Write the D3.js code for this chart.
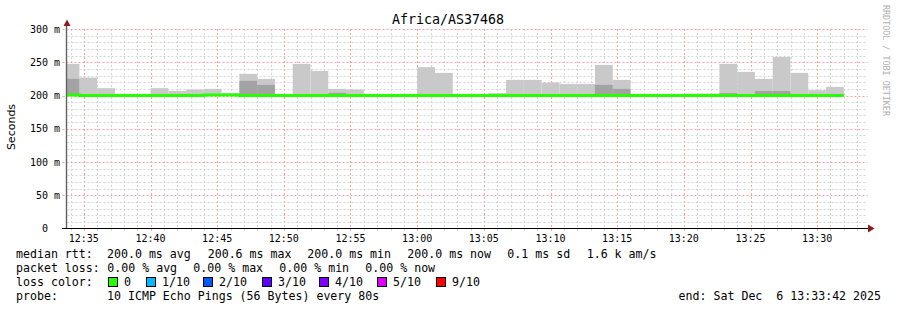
<!DOCTYPE html>
<html>
<head>
<meta charset="utf-8">
<script src="https://cdn.jsdelivr.net/npm/d3@7"></script>
<style>
  body { margin: 0; background: #fff; }
  svg { display: block; }
  text { font-family: "DejaVu Sans Mono", monospace; white-space: pre; }
</style>
</head>
<body>
<svg id="chart" width="897" height="310"></svg>
<script>
// ---- data (ms), one value per 80 s step, oldest first
var title = "Africa/AS37468";
var stepSec = 80;
var lastStepEnd = new Date(2025, 11, 6, 13, 32, 0);
var graphEnd = new Date(2025, 11, 6, 13, 33, 42);
var smokeFloor = 200.0;

var medianMs = [200.6, 200.0, 200.0, 200.0, 200.0, 200.0, 200.0, 200.0, 200.6, 200.6,
                200.0, 200.0, 200.0, 200.0, 200.0, 200.0, 200.0, 200.0, 200.0, 200.0,
                200.0, 200.0, 200.0, 200.0, 200.0, 200.0, 200.0, 200.0, 200.0, 200.0,
                200.0, 200.0, 200.0, 200.0, 200.0, 200.0, 200.0, 200.0, 200.0, 200.0,
                200.0, 200.0, 200.0, 200.0];
// highest ping of each step (light smoke)
var maxMs = [247.6, 227, 211, null, null, 211, 207, 209, 210, 204,
             232.5, 225, null, 247.6, 237, 210, 209, null, null, null,
             242.6, 234, null, null, 203.5, 223.5, 223.5, 219.5, 217.4, 217.4,
             246, 223.5, null, null, null, 203, 203, 247.6, 235.5, 225,
             258, 234, 208, 213];
// where pings overlap (dark smoke)
var darkMs = [225, null, null, null, null, null, null, null, null, null,
              222, 216, null, null, null, 204, null, null, null, null,
              null, null, null, null, null, null, null, null, null, null,
              216, 210, null, null, null, null, null, 203.5, null, 206.8,
              206.8, null, null, null];

var yTicks = [0, 50, 100, 150, 200, 250, 300];
var lossLabels = ["0", "1/10", "2/10", "3/10", "4/10", "5/10", "9/10"];
var lossColors = ["#26ff00", "#00b8ff", "#0059ff", "#5e00ff", "#7e00ff", "#dd00ff", "#ff0000"];
var rttStats = ["200.0 ms avg", "200.6 ms max", "200.0 ms min", "200.0 ms now", "0.1 ms sd", "1.6 k am/s"];
var lossStats = ["0.00 % avg", "0.00 % max", "0.00 % min", "0.00 % now"];
var probeText = "10 ICMP Echo Pings (56 Bytes) every 80s";
var endText = "end: Sat Dec  6 13:33:42 2025";

// ---- layout
var svg = d3.select("#chart");
var pLeft = 66.5, pRight = 866.5, pBottom = 228.5, pTop = 29;

var x = d3.scaleTime()
    .domain([new Date(graphEnd.getTime() - 3600 * 1000), graphEnd])
    .range([pLeft, pRight]);
var y = d3.scaleLinear().domain([0, 300]).range([pBottom, pTop]);

var n = medianMs.length;
var steps = medianMs.map(function(m, i) {
  var end = new Date(lastStepEnd.getTime() - (n - 1 - i) * stepSec * 1000);
  return { start: new Date(end.getTime() - stepSec * 1000), end: end, med: m, max: maxMs[i], dark: darkMs[i] };
});

svg.append("defs").append("clipPath").attr("id", "plot")
  .append("rect").attr("x", pLeft).attr("y", 0).attr("width", pRight - pLeft).attr("height", pBottom);

// grid
var grid = svg.append("g");
var px = function(v) { return Math.round(v) + 0.5; };
x.ticks(d3.timeMinute.every(1)).forEach(function(t) {
  var major = t.getMinutes() % 5 === 0;
  grid.append("line")
    .attr("x1", px(x(t))).attr("x2", px(x(t)))
    .attr("y1", pTop).attr("y2", pBottom + 3)
    .attr("stroke", major ? "#f3a3a3" : "#d4d4d4")
    .attr("stroke-dasharray", "2,2");
});
d3.range(10, 301, 10).forEach(function(v) {
  var major = v % 50 === 0;
  grid.append("line")
    .attr("x1", major ? pLeft - 4 : pLeft + 1).attr("x2", pRight + 1)
    .attr("y1", px(y(v))).attr("y2", px(y(v)))
    .attr("stroke", major ? "#f3a3a3" : "#d4d4d4")
    .attr("stroke-dasharray", "2,2");
});

// smoke
var plot = svg.append("g").attr("clip-path", "url(#plot)");
plot.selectAll("rect.light").data(steps.filter(function(d) { return d.max != null; }))
  .enter().append("rect").attr("class", "light")
  .attr("x", function(d) { return x(d.start); })
  .attr("width", function(d) { return x(d.end) - x(d.start); })
  .attr("y", function(d) { return y(d.max); })
  .attr("height", function(d) { return y(smokeFloor) - y(d.max); })
  .attr("fill", "#c9c9c9");
plot.selectAll("rect.dark").data(steps.filter(function(d) { return d.dark != null; }))
  .enter().append("rect").attr("class", "dark")
  .attr("x", function(d) { return x(d.start); })
  .attr("width", function(d) { return x(d.end) - x(d.start); })
  .attr("y", function(d) { return y(d.dark); })
  .attr("height", function(d) { return y(smokeFloor) - y(d.dark); })
  .attr("fill", "#a3a3a3");

// median line
var pts = steps.map(function(d) { return [x(d.start), y(d.med)]; });
pts.push([x(steps[n - 1].end), y(steps[n - 1].med)]);
plot.append("path")
  .attr("d", d3.line().curve(d3.curveStepAfter)(pts))
  .attr("fill", "none")
  .attr("stroke", lossColors[0])
  .attr("stroke-width", 3);

// axes
svg.append("line").attr("x1", 66.5).attr("x2", 66.5).attr("y1", pBottom).attr("y2", 24)
  .attr("stroke", "#606060").attr("stroke-width", 1.4);
svg.append("line").attr("x1", 62).attr("x2", 869).attr("y1", pBottom).attr("y2", pBottom)
  .attr("stroke", "#000");
svg.append("path").attr("d", "M63.5,26 L70.5,26 L67,19.5 Z").attr("fill", "#8b1a1a");
svg.append("path").attr("d", "M868,224.5 L868,232.5 L874.5,228.5 Z").attr("fill", "#8b1a1a");

svg.append("g").selectAll("text").data(yTicks).enter().append("text")
  .attr("x", 60).attr("y", function(d) { return y(d); }).attr("dy", "0.35em")
  .attr("text-anchor", "end").attr("font-size", "10px").attr("fill", "#000")
  .text(function(d) { return d === 0 ? "0  " : d + " m"; });

var fmt = d3.timeFormat("%H:%M");
svg.append("g").selectAll("text").data(x.ticks(d3.timeMinute.every(5))).enter().append("text")
  .attr("x", function(d) { return x(d); }).attr("y", 241.5)
  .attr("text-anchor", "middle").attr("font-size", "10px").attr("fill", "#000")
  .text(function(d) { return fmt(d); });

// titles
svg.append("text").attr("x", 448).attr("y", 24).attr("text-anchor", "middle")
  .attr("font-size", "13.3px").attr("fill", "#000").text(title);
svg.append("text").attr("transform", "translate(15,127) rotate(-90)")
  .attr("text-anchor", "middle").attr("font-size", "11px")
  .style("font-family", "'DejaVu Sans', sans-serif").attr("fill", "#000").text("Seconds");
svg.append("text").attr("transform", "translate(883,5) rotate(90)")
  .attr("font-size", "8.4px").attr("fill", "#b0b0b0").text("RRDTOOL / TOBI OETIKER");

// legend
var leg = svg.append("g").attr("font-size", "11.6px").attr("fill", "#000");
leg.append("text").attr("x", 16).attr("y", 258).text("median rtt:");
var rttX = [107, 207.7, 307.3, 407.3, 507.3, 586.7];
rttStats.forEach(function(s, i) { leg.append("text").attr("x", rttX[i]).attr("y", 258).text(s); });
leg.append("text").attr("x", 16).attr("y", 272).text("packet loss:");
var lossX = [107.3, 193.3, 279.3, 365.3];
lossStats.forEach(function(s, i) { leg.append("text").attr("x", lossX[i]).attr("y", 272).text(s); });
leg.append("text").attr("x", 16).attr("y", 286).text("loss color:");
var swX = [108, 146, 203, 262, 319, 377, 436];
lossLabels.forEach(function(s, i) {
  leg.append("rect").attr("x", swX[i] + 0.5).attr("y", 277.5).attr("width", 9).attr("height", 9)
    .attr("fill", lossColors[i]).attr("stroke", "#000");
  leg.append("text").attr("x", swX[i] + 16).attr("y", 286).text(s);
});
leg.append("text").attr("x", 16).attr("y", 300).text("probe:");
leg.append("text").attr("x", 107).attr("y", 300).text(probeText);
leg.append("text").attr("x", 881).attr("y", 300).attr("text-anchor", "end").text(endText);
</script>
</body>
</html>
